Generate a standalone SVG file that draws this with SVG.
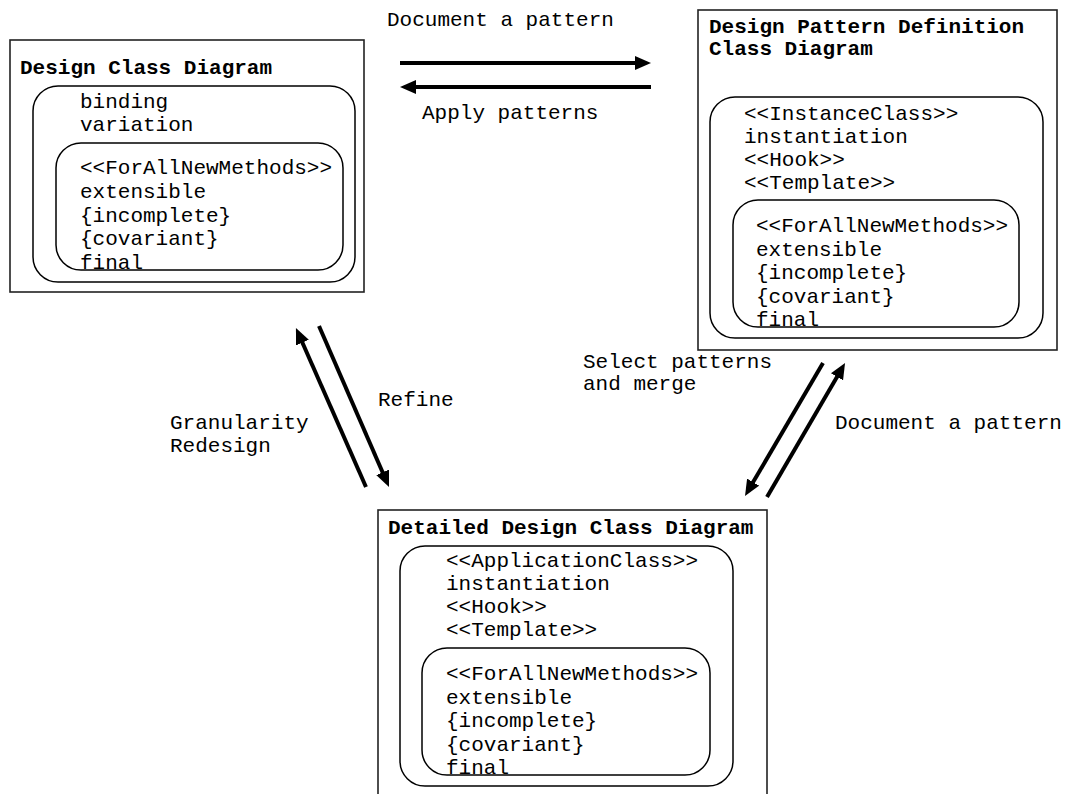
<svg xmlns="http://www.w3.org/2000/svg" width="1070" height="794" viewBox="0 0 1070 794">
<style>
.t{font-family:"Liberation Mono","Courier New",monospace;font-size:21px;fill:#000}
.b{font-weight:bold}
.box{fill:#fff;stroke:#222;stroke-width:1.6}
.rr{fill:none;stroke:#000;stroke-width:1.5}
.conn line{stroke:#000;stroke-width:4}
</style>
<defs>
<marker id="ah" markerUnits="userSpaceOnUse" markerWidth="16" markerHeight="14" refX="4" refY="7" orient="auto">
<path d="M0,0 L16,7 L0,14 z" fill="#000"/>
</marker>
</defs>
<rect width="1070" height="794" fill="#fff"/>
<g id="design-class-diagram">
<rect class="box" x="10" y="40" width="354" height="252"/>
<text class="t b" x="20" y="74">Design Class Diagram</text>
<rect class="rr" x="33" y="86" width="322" height="196" rx="25"/>
<text class="t" x="80" y="108">binding</text>
<text class="t" x="80" y="131">variation</text>
<rect class="rr" x="56" y="143" width="287" height="127" rx="25"/>
<text class="t" x="80" y="174">&lt;&lt;ForAllNewMethods&gt;&gt;</text>
<text class="t" x="80" y="198">extensible</text>
<text class="t" x="80" y="222">{incomplete}</text>
<text class="t" x="80" y="245">{covariant}</text>
<text class="t" x="80" y="269">final</text>
</g>
<g id="design-pattern-definition">
<rect class="box" x="698" y="10" width="359" height="340"/>
<text class="t b" x="709" y="33">Design Pattern Definition</text>
<text class="t b" x="709" y="55">Class Diagram</text>
<rect class="rr" x="710" y="97" width="333" height="241" rx="25"/>
<text class="t" x="744" y="120">&lt;&lt;InstanceClass&gt;&gt;</text>
<text class="t" x="744" y="143">instantiation</text>
<text class="t" x="744" y="166">&lt;&lt;Hook&gt;&gt;</text>
<text class="t" x="744" y="189">&lt;&lt;Template&gt;&gt;</text>
<rect class="rr" x="733" y="200" width="286" height="127" rx="25"/>
<text class="t" x="756" y="232">&lt;&lt;ForAllNewMethods&gt;&gt;</text>
<text class="t" x="756" y="256">extensible</text>
<text class="t" x="756" y="279">{incomplete}</text>
<text class="t" x="756" y="303">{covariant}</text>
<text class="t" x="756" y="326">final</text>
</g>
<g id="detailed-design-class-diagram">
<rect class="box" x="378" y="510" width="389" height="300"/>
<text class="t b" x="388" y="534">Detailed Design Class Diagram</text>
<rect class="rr" x="400" y="546" width="333" height="240" rx="25"/>
<text class="t" x="446" y="567">&lt;&lt;ApplicationClass&gt;&gt;</text>
<text class="t" x="446" y="590">instantiation</text>
<text class="t" x="446" y="613">&lt;&lt;Hook&gt;&gt;</text>
<text class="t" x="446" y="636">&lt;&lt;Template&gt;&gt;</text>
<rect class="rr" x="422" y="648" width="288" height="127" rx="25"/>
<text class="t" x="446" y="680">&lt;&lt;ForAllNewMethods&gt;&gt;</text>
<text class="t" x="446" y="704">extensible</text>
<text class="t" x="446" y="727">{incomplete}</text>
<text class="t" x="446" y="751">{covariant}</text>
<text class="t" x="446" y="774">final</text>
</g>
<g id="connectors" class="conn">
<line x1="400" y1="63" x2="639" y2="63" marker-end="url(#ah)"/>
<line x1="651" y1="87" x2="412" y2="87" marker-end="url(#ah)"/>
<line x1="319" y1="326" x2="384.2" y2="476" marker-end="url(#ah)"/>
<line x1="366" y1="487" x2="300.8" y2="339" marker-end="url(#ah)"/>
<line x1="823" y1="363" x2="751.1" y2="485.6" marker-end="url(#ah)"/>
<line x1="767" y1="497" x2="839" y2="373.4" marker-end="url(#ah)"/>
</g>
<g id="labels">
<text class="t" x="387" y="26">Document a pattern</text>
<text class="t" x="422" y="119">Apply patterns</text>
<text class="t" x="378" y="406">Refine</text>
<text class="t" x="170" y="429">Granularity</text>
<text class="t" x="170" y="452">Redesign</text>
<text class="t" x="583" y="368">Select patterns</text>
<text class="t" x="583" y="390">and merge</text>
<text class="t" x="835" y="429">Document a pattern</text>
</g>
</svg>
